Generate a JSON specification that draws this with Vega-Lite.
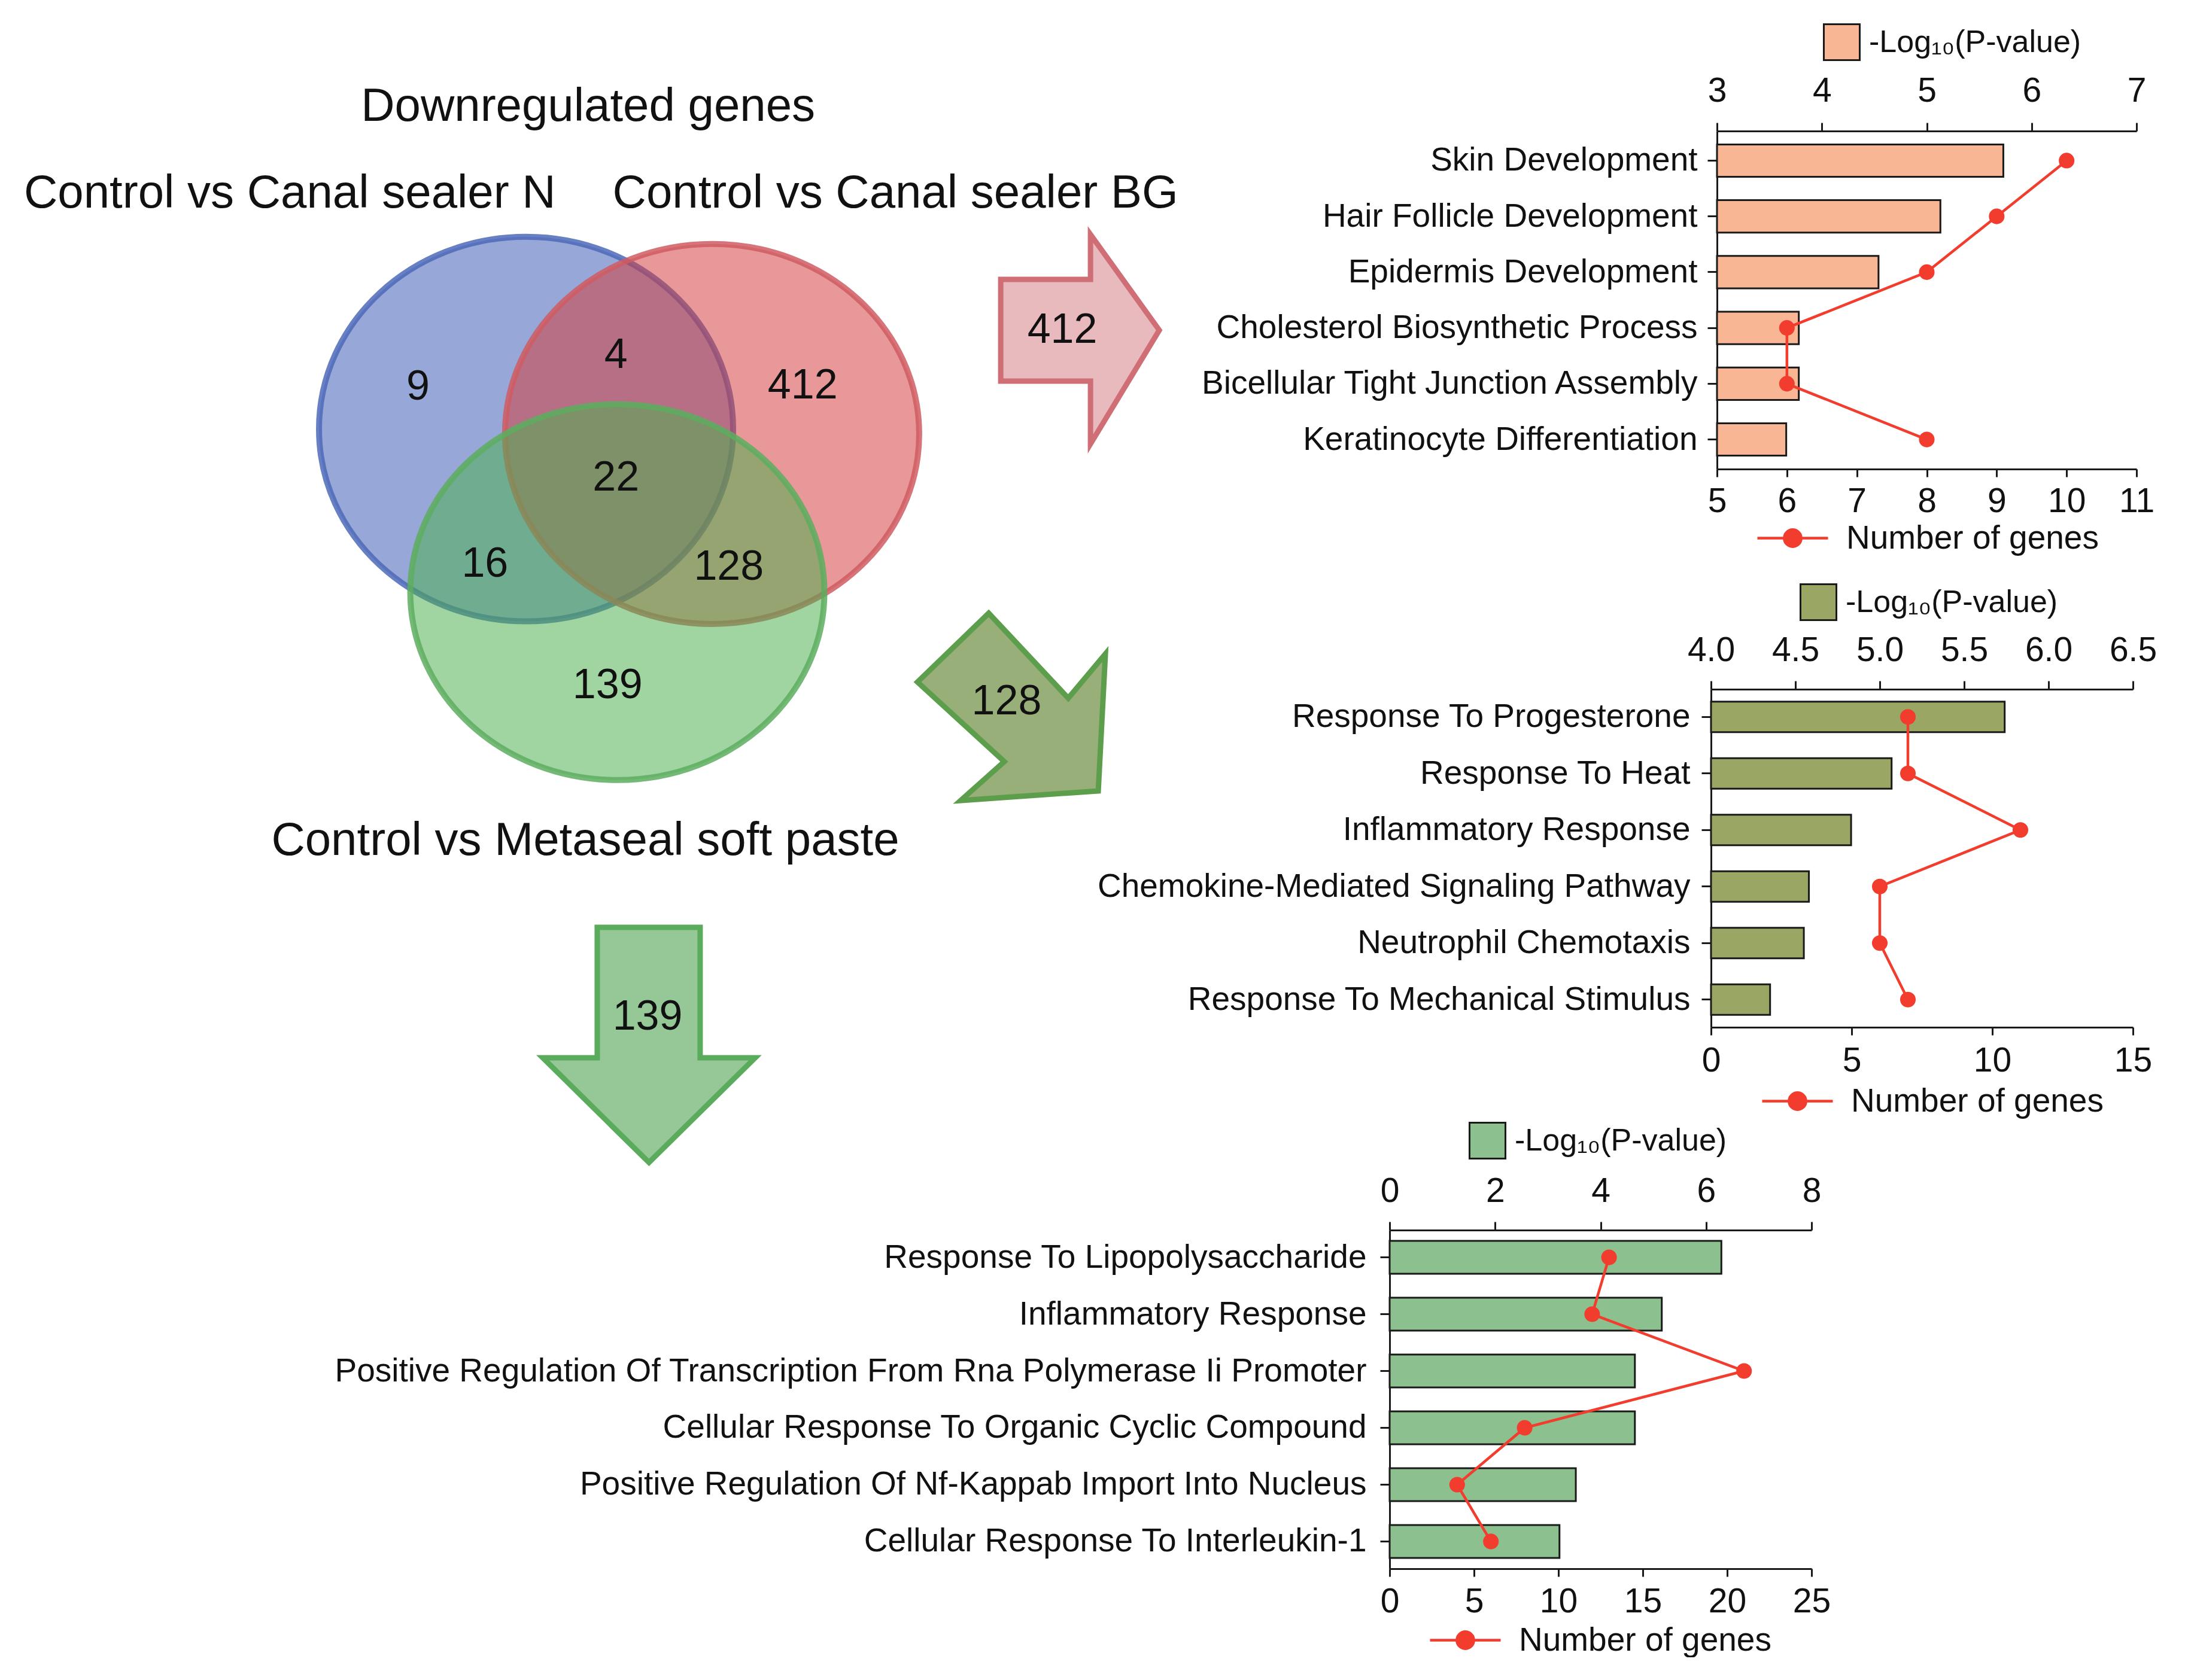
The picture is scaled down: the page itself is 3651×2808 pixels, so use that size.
{
  "$schema": "https://vega.github.io/schema/vega-lite/v6.json",
  "padding": 0,
  "background": "white",
  "config": {
    "view": {"stroke": null},
    "font": "Liberation Sans",
    "axis": {"labelFont": "Liberation Sans", "labelColor": "#111111", "domainColor": "#1a1a1a", "tickColor": "#1a1a1a", "grid": false},
    "legend": {"labelFont": "Liberation Sans", "labelColor": "#111111"},
    "text": {"font": "Liberation Sans"}
  },
  "datasets": {
    "venn_sets": [
      {"set": "Control vs Canal sealer N", "px": 3.775, "py": 3.08},
      {"set": "Control vs Canal sealer BG", "px": 5.11, "py": 3.115},
      {"set": "Control vs Metaseal soft paste", "px": 4.43, "py": 4.25}
    ],
    "venn_counts": [
      {"region": "N only", "count": "9", "px": 3.0, "py": 2.78},
      {"region": "N and BG", "count": "4", "px": 4.42, "py": 2.55},
      {"region": "BG only", "count": "412", "px": 5.76, "py": 2.77},
      {"region": "All three", "count": "22", "px": 4.42, "py": 3.43},
      {"region": "N and Metaseal", "count": "16", "px": 3.48, "py": 4.05},
      {"region": "BG and Metaseal", "count": "128", "px": 5.23, "py": 4.07},
      {"region": "Metaseal only", "count": "139", "px": 4.36, "py": 4.92}
    ],
    "venn_titles": [
      {"title": "Downregulated genes", "px": 4.22, "py": 0.77},
      {"title": "Control vs Canal sealer N", "px": 2.08, "py": 1.39},
      {"title": "Control vs Canal sealer BG", "px": 6.425, "py": 1.39},
      {"title": "Control vs Metaseal soft paste", "px": 4.2, "py": 6.04}
    ],
    "arrows": [
      {"subset": "BG only", "count": "412", "px": 7.75, "py": 2.435},
      {"subset": "BG and Metaseal", "count": "128", "px": 7.258, "py": 5.074},
      {"subset": "Metaseal only", "count": "139", "px": 4.657, "py": 7.501}
    ],
    "arrow_labels": [
      {"subset": "BG only", "count": "412", "px": 7.623, "py": 2.371},
      {"subset": "BG and Metaseal", "count": "128", "px": 7.223, "py": 5.038},
      {"subset": "Metaseal only", "count": "139", "px": 4.647, "py": 7.301}
    ],
    "go_bg": [
      {"idx": 1, "term": "Skin Development", "neglog10p": 5.73, "genes": 10},
      {"idx": 2, "term": "Hair Follicle Development", "neglog10p": 5.13, "genes": 9},
      {"idx": 3, "term": "Epidermis Development", "neglog10p": 4.54, "genes": 8},
      {"idx": 4, "term": "Cholesterol Biosynthetic Process", "neglog10p": 3.78, "genes": 6},
      {"idx": 5, "term": "Bicellular Tight Junction Assembly", "neglog10p": 3.78, "genes": 6},
      {"idx": 6, "term": "Keratinocyte Differentiation", "neglog10p": 3.66, "genes": 8}
    ],
    "go_bg_meta": [
      {"idx": 1, "term": "Response To Progesterone", "neglog10p": 5.74, "genes": 7},
      {"idx": 2, "term": "Response To Heat", "neglog10p": 5.07, "genes": 7},
      {"idx": 3, "term": "Inflammatory Response", "neglog10p": 4.83, "genes": 11},
      {"idx": 4, "term": "Chemokine-Mediated Signaling Pathway", "neglog10p": 4.58, "genes": 6},
      {"idx": 5, "term": "Neutrophil Chemotaxis", "neglog10p": 4.55, "genes": 6},
      {"idx": 6, "term": "Response To Mechanical Stimulus", "neglog10p": 4.35, "genes": 7}
    ],
    "go_meta": [
      {"idx": 1, "term": "Response To Lipopolysaccharide", "neglog10p": 6.29, "genes": 13},
      {"idx": 2, "term": "Inflammatory Response", "neglog10p": 5.16, "genes": 12},
      {"idx": 3, "term": "Positive Regulation Of Transcription From Rna Polymerase Ii Promoter", "neglog10p": 4.65, "genes": 21},
      {"idx": 4, "term": "Cellular Response To Organic Cyclic Compound", "neglog10p": 4.65, "genes": 8},
      {"idx": 5, "term": "Positive Regulation Of Nf-Kappab Import Into Nucleus", "neglog10p": 3.53, "genes": 4},
      {"idx": 6, "term": "Cellular Response To Interleukin-1", "neglog10p": 3.22, "genes": 6}
    ]
  },
  "spacing": 0,
  "bounds": "flush",
  "resolve": {"scale": {"fill": "independent", "stroke": "independent", "shape": "independent", "color": "independent"}},
  "vconcat": [
    {
      "width": 2859,
      "height": 219,
      "encoding": {
        "x": {"field": "px", "type": "quantitative", "scale": {"domain": [0, 12.278], "range": [0, 2859], "nice": false, "zero": false}, "axis": null},
        "y": {"field": "py", "type": "quantitative", "scale": {"domain": [0, 8.83], "range": [0, 2056], "nice": false, "zero": false}, "axis": null}
      },
      "layer": [
        {
          "data": {"name": "venn_sets"},
          "mark": {"type": "point", "filled": true, "opacity": 1, "size": 478864, "fillOpacity": 0.53, "strokeOpacity": 0.85, "strokeWidth": 10},
          "encoding": {
            "shape": {"field": "set", "type": "nominal", "legend": null, "scale": {"domain": ["Control vs Canal sealer N", "Control vs Canal sealer BG", "Control vs Metaseal soft paste"], "range": [
              "M -1 0 C -1 -0.513 -0.5523 -0.929 0 -0.929 C 0.5523 -0.929 1 -0.513 1 0 C 1 0.513 0.5523 0.929 0 0.929 C -0.5523 0.929 -1 0.513 -1 0 Z",
              "M -1 0 C -1 -0.507 -0.5523 -0.918 0 -0.918 C 0.5523 -0.918 1 -0.507 1 0 C 1 0.507 0.5523 0.918 0 0.918 C -0.5523 0.918 -1 0.507 -1 0 Z",
              "M -1 0 C -1 -0.5015 -0.5523 -0.908 0 -0.908 C 0.5523 -0.908 1 -0.5015 1 0 C 1 0.5015 0.5523 0.908 0 0.908 C -0.5523 0.908 -1 0.5015 -1 0 Z"
            ]}},
            "fill": {"field": "set", "type": "nominal", "legend": null, "scale": {"domain": ["Control vs Canal sealer N", "Control vs Canal sealer BG", "Control vs Metaseal soft paste"], "range": ["#3A5BB5", "#D33D3D", "#4CAF50"]}},
            "stroke": {"field": "set", "type": "nominal", "legend": null, "scale": {"domain": ["Control vs Canal sealer N", "Control vs Canal sealer BG", "Control vs Metaseal soft paste"], "range": ["#4C68B8", "#CF5C62", "#5DAD5F"]}}
          }
        },
        {
          "data": {"name": "venn_titles"},
          "mark": {"type": "text", "fontSize": 78, "align": "center", "baseline": "middle", "color": "#111111"},
          "encoding": {"text": {"field": "title", "type": "nominal"}}
        },
        {
          "data": {"name": "venn_counts"},
          "mark": {"type": "text", "fontSize": 70, "align": "center", "baseline": "middle", "color": "#111111"},
          "encoding": {"text": {"field": "count", "type": "nominal"}}
        },
        {
          "data": {"name": "arrows"},
          "transform": [{"filter": "datum.count == '412'"}],
          "mark": {"type": "point", "filled": true, "opacity": 1, "size": 122500, "fill": "#E8B9BD", "stroke": "#CF6E74", "strokeWidth": 9,
            "shape": "M -0.757 -0.571 L 0.1 -0.571 L 0.1 -1 L 0.757 -0.086 L 0.1 1 L 0.1 0.4 L -0.757 0.4 Z"}
        },
        {
          "data": {"name": "arrows"},
          "transform": [{"filter": "datum.count == '128'"}],
          "mark": {"type": "point", "filled": true, "opacity": 1, "size": 98596, "fill": "#98AF7A", "stroke": "#5D9E4D", "strokeWidth": 9,
            "shape": "M -1 -0.264 L -0.242 -0.997 L 0.605 -0.092 L 1 -0.564 L 0.924 0.895 L -0.541 0.997 L -0.076 0.583 Z"}
        },
        {
          "data": {"name": "arrows"},
          "transform": [{"filter": "datum.count == '139'"}],
          "mark": {"type": "point", "filled": true, "opacity": 1, "size": 154449, "fill": "#95C896", "stroke": "#5BAB5D", "strokeWidth": 9,
            "shape": "M -0.44 -1 L 0.435 -1 L 0.435 0.109 L 0.903 0.109 L 0 1 L -0.903 0.109 L -0.44 0.109 Z"}
        },
        {
          "data": {"name": "arrow_labels"},
          "mark": {"type": "text", "fontSize": 70, "align": "center", "baseline": "middle", "color": "#111111"},
          "encoding": {"text": {"field": "count", "type": "nominal"}}
        }
      ]
    },
    {
      "width": 3570,
      "height": 565,
      "data": {"name": "go_bg"},
      "encoding": {
        "y": {"field": "term", "type": "nominal", "sort": null, "scale": {"paddingInner": 0.42, "paddingOuter": 0.24},
          "axis": {"title": null, "offset": -2869, "tickSize": 16, "tickWidth": 3, "domainWidth": 3, "labelFontSize": 55, "labelPadding": 17, "labelLimit": 2000}}
      },
      "layer": [
        {
          "mark": {"type": "bar", "stroke": "#1a1a1a", "strokeWidth": 3},
          "encoding": {
            "x": {"field": "neglog10p", "type": "quantitative", "scale": {"domain": [3, 7], "range": [2869, 3570], "nice": false, "zero": false},
              "axis": {"orient": "top", "title": null, "values": [3, 4, 5, 6, 7], "format": "d", "tickSize": 14, "tickWidth": 3, "domainWidth": 3, "labelFontSize": 57, "labelPadding": 24, "labelFlush": false, "labelOverlap": false}},
            "x2": {"datum": 3},
            "fill": {"datum": "-Log\u2081\u2080(P-value)", "type": "nominal", "scale": {"range": ["#F8B695"]},
              "legend": {"orient": "none", "legendX": 3046, "legendY": -180, "title": null, "symbolType": "square", "symbolSize": 3600, "symbolStrokeColor": "#1a1a1a", "symbolStrokeWidth": 3, "labelFontSize": 52, "labelOffset": 14, "labelLimit": 1000}}
          }
        },
        {
          "encoding": {
            "x": {"field": "genes", "type": "quantitative", "scale": {"domain": [5, 11], "range": [2869, 3570], "nice": false, "zero": false},
              "axis": {"orient": "bottom", "title": null, "values": [5, 6, 7, 8, 9, 10, 11], "format": "d", "tickSize": 13, "tickWidth": 3, "domainWidth": 3, "labelFontSize": 57, "labelPadding": 13, "labelFlush": false, "labelOverlap": false}}
          },
          "layer": [
            {
              "mark": {"type": "line", "strokeWidth": 4.5},
              "encoding": {
                "order": {"field": "idx", "type": "quantitative"},
                "stroke": {"datum": "Number of genes", "type": "nominal", "scale": {"range": ["#F23C2E"]},
                  "legend": {"orient": "none", "legendX": 2934, "legendY": 619, "title": null,
                    "symbolType": "M -1 0 L 1 0 M -0.24 0 C -0.24 -0.133 -0.133 -0.24 0 -0.24 C 0.133 -0.24 0.24 -0.133 0.24 0 C 0.24 0.133 0.133 0.24 0 0.24 C -0.133 0.24 -0.24 0.133 -0.24 0 Z",
                    "symbolSize": 13924, "symbolStrokeWidth": 4.5, "symbolStrokeColor": "#F23C2E", "symbolFillColor": "#F23C2E",
                    "labelFontSize": 55, "labelOffset": 28, "labelLimit": 1000,
                    "encode": {"symbols": {"update": {"fill": {"value": "#F23C2E"}, "fillOpacity": {"value": 1}, "stroke": {"value": "#F23C2E"}}}}}}
              }
            },
            {"mark": {"type": "point", "filled": true, "opacity": 1, "size": 680, "fill": "#F23C2E", "strokeWidth": 0}, "encoding": {}}
          ]
        }
      ],
      "resolve": {"scale": {"x": "independent"}}
    },
    {"width": 10, "height": 368, "data": {"values": [{}]}, "mark": {"type": "point", "opacity": 0}, "encoding": {}},
    {
      "width": 3564,
      "height": 565,
      "data": {"name": "go_bg_meta"},
      "encoding": {
        "y": {"field": "term", "type": "nominal", "sort": null, "scale": {"paddingInner": 0.46, "paddingOuter": 0.22},
          "axis": {"title": null, "offset": -2859, "tickSize": 16, "tickWidth": 3, "domainWidth": 3, "labelFontSize": 55, "labelPadding": 19, "labelLimit": 2000}}
      },
      "layer": [
        {
          "mark": {"type": "bar", "stroke": "#1a1a1a", "strokeWidth": 3},
          "encoding": {
            "x": {"field": "neglog10p", "type": "quantitative", "scale": {"domain": [4, 6.5], "range": [2859, 3564], "nice": false, "zero": false},
              "axis": {"orient": "top", "title": null, "values": [4, 4.5, 5, 5.5, 6, 6.5], "format": ".1f", "tickSize": 14, "tickWidth": 3, "domainWidth": 3, "labelFontSize": 57, "labelPadding": 22, "labelFlush": false, "labelOverlap": false}},
            "x2": {"datum": 4},
            "fill": {"datum": "-Log\u2081\u2080(P-value)", "type": "nominal", "scale": {"range": ["#99A664"]},
              "legend": {"orient": "none", "legendX": 3007, "legendY": -177, "title": null, "symbolType": "square", "symbolSize": 3600, "symbolStrokeColor": "#1a1a1a", "symbolStrokeWidth": 3, "labelFontSize": 52, "labelOffset": 14, "labelLimit": 1000}}
          }
        },
        {
          "encoding": {
            "x": {"field": "genes", "type": "quantitative", "scale": {"domain": [0, 15], "range": [2859, 3564], "nice": false, "zero": false},
              "axis": {"orient": "bottom", "title": null, "values": [0, 5, 10, 15], "format": "d", "tickSize": 13, "tickWidth": 3, "domainWidth": 3, "labelFontSize": 57, "labelPadding": 15, "labelFlush": false, "labelOverlap": false}}
          },
          "layer": [
            {
              "mark": {"type": "line", "strokeWidth": 4.5},
              "encoding": {
                "order": {"field": "idx", "type": "quantitative"},
                "stroke": {"datum": "Number of genes", "type": "nominal", "scale": {"range": ["#F23C2E"]},
                  "legend": {"orient": "none", "legendX": 2942, "legendY": 627, "title": null,
                    "symbolType": "M -1 0 L 1 0 M -0.24 0 C -0.24 -0.133 -0.133 -0.24 0 -0.24 C 0.133 -0.24 0.24 -0.133 0.24 0 C 0.24 0.133 0.133 0.24 0 0.24 C -0.133 0.24 -0.24 0.133 -0.24 0 Z",
                    "symbolSize": 13924, "symbolStrokeWidth": 4.5, "symbolStrokeColor": "#F23C2E", "symbolFillColor": "#F23C2E",
                    "labelFontSize": 55, "labelOffset": 28, "labelLimit": 1000,
                    "encode": {"symbols": {"update": {"fill": {"value": "#F23C2E"}, "fillOpacity": {"value": 1}, "stroke": {"value": "#F23C2E"}}}}}}
              }
            },
            {"mark": {"type": "point", "filled": true, "opacity": 1, "size": 680, "fill": "#F23C2E", "strokeWidth": 0}, "encoding": {}}
          ]
        }
      ],
      "resolve": {"scale": {"x": "independent"}}
    },
    {"width": 10, "height": 339, "data": {"values": [{}]}, "mark": {"type": "point", "opacity": 0}, "encoding": {}},
    {
      "width": 3027,
      "height": 566,
      "data": {"name": "go_meta"},
      "encoding": {
        "y": {"field": "term", "type": "nominal", "sort": null, "scale": {"paddingInner": 0.42, "paddingOuter": 0.19},
          "axis": {"title": null, "offset": -2322, "tickSize": 16, "tickWidth": 3, "domainWidth": 3, "labelFontSize": 55, "labelPadding": 23, "labelLimit": 2000}}
      },
      "layer": [
        {
          "mark": {"type": "bar", "stroke": "#1a1a1a", "strokeWidth": 3},
          "encoding": {
            "x": {"field": "neglog10p", "type": "quantitative", "scale": {"domain": [0, 8], "range": [2322, 3027], "nice": false, "zero": false},
              "axis": {"orient": "top", "title": null, "values": [0, 2, 4, 6, 8], "format": "d", "tickSize": 14, "tickWidth": 3, "domainWidth": 3, "labelFontSize": 57, "labelPadding": 22, "labelFlush": false, "labelOverlap": false}},
            "x2": {"datum": 0},
            "fill": {"datum": "-Log\u2081\u2080(P-value)", "type": "nominal", "scale": {"range": ["#8DC08F"]},
              "legend": {"orient": "none", "legendX": 2454, "legendY": -181, "title": null, "symbolType": "square", "symbolSize": 3600, "symbolStrokeColor": "#1a1a1a", "symbolStrokeWidth": 3, "labelFontSize": 52, "labelOffset": 14, "labelLimit": 1000}}
          }
        },
        {
          "encoding": {
            "x": {"field": "genes", "type": "quantitative", "scale": {"domain": [0, 25], "range": [2322, 3027], "nice": false, "zero": false},
              "axis": {"orient": "bottom", "title": null, "values": [0, 5, 10, 15, 20, 25], "format": "d", "tickSize": 13, "tickWidth": 3, "domainWidth": 3, "labelFontSize": 57, "labelPadding": 14, "labelFlush": false, "labelOverlap": false}}
          },
          "layer": [
            {
              "mark": {"type": "line", "strokeWidth": 4.5},
              "encoding": {
                "order": {"field": "idx", "type": "quantitative"},
                "stroke": {"datum": "Number of genes", "type": "nominal", "scale": {"range": ["#F23C2E"]},
                  "legend": {"orient": "none", "legendX": 2387, "legendY": 624, "title": null,
                    "symbolType": "M -1 0 L 1 0 M -0.24 0 C -0.24 -0.133 -0.133 -0.24 0 -0.24 C 0.133 -0.24 0.24 -0.133 0.24 0 C 0.24 0.133 0.133 0.24 0 0.24 C -0.133 0.24 -0.24 0.133 -0.24 0 Z",
                    "symbolSize": 13924, "symbolStrokeWidth": 4.5, "symbolStrokeColor": "#F23C2E", "symbolFillColor": "#F23C2E",
                    "labelFontSize": 55, "labelOffset": 28, "labelLimit": 1000,
                    "encode": {"symbols": {"update": {"fill": {"value": "#F23C2E"}, "fillOpacity": {"value": 1}, "stroke": {"value": "#F23C2E"}}}}}}
              }
            },
            {"mark": {"type": "point", "filled": true, "opacity": 1, "size": 680, "fill": "#F23C2E", "strokeWidth": 0}, "encoding": {}}
          ]
        }
      ],
      "resolve": {"scale": {"x": "independent"}}
    }
  ]
}
